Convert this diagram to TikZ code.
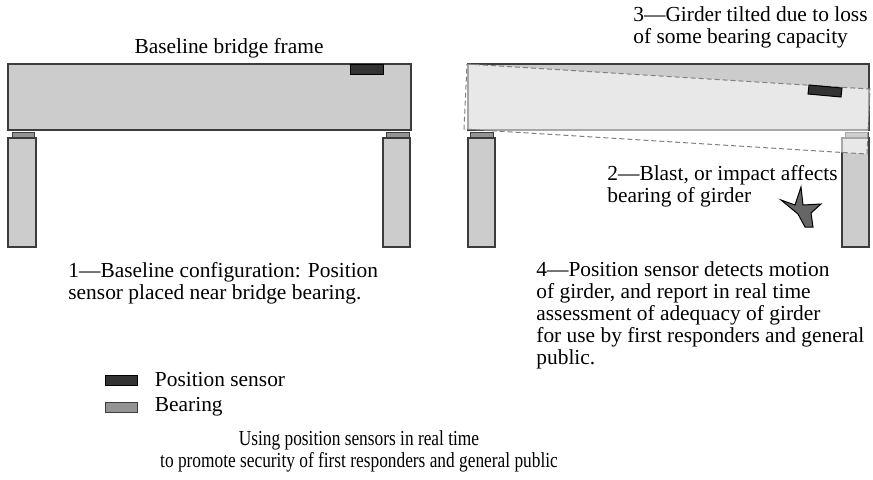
\documentclass[tikz,border=0pt]{standalone}
\usepackage{fontspec}
\setmainfont{Liberation Serif}
\usepackage{graphicx}
\usetikzlibrary{positioning}

\definecolor{edgegray}{HTML}{3C3C3C}
\definecolor{girdergray}{HTML}{CCCCCC}
\definecolor{bearinggray}{HTML}{939393}
\definecolor{sensorgray}{HTML}{333333}
\definecolor{stargray}{HTML}{666666}

\begin{document}
\begin{tikzpicture}[x=0.5pt,y=-0.5pt]
  \tikzset{girder/.style = {draw=edgegray, fill=girdergray, line width=0.6pt}}
  \tikzset{pier/.style = {draw=edgegray, fill=girdergray, line width=0.6pt}}
  \tikzset{bearing/.style = {draw=edgegray, fill=bearinggray, line width=0.5pt}}
  \tikzset{sensor/.style = {draw=black, fill=sensorgray, line width=0.5pt}}
  \tikzset{ghost/.style = {draw=gray, dashed, dash pattern=on 2.5pt off 1.5pt, fill=white, fill opacity=0.55, line width=0.5pt}}
  \tikzset{blast/.style = {draw=black, fill=stargray, line width=0.5pt, line join=miter}}
  \tikzset{lbl/.style = {inner sep=0pt, align=left, font=\fontsize{10.7}{11}\selectfont}}

  \useasboundingbox (0,0) rectangle (873,479);

  % baseline frame
  \draw[girder] (8,64) rectangle (411,130);
  \draw[sensor] (350,64) rectangle (383,74);
  \draw[bearing] (12,132) rectangle (34,137);
  \draw[bearing] (386,132) rectangle (409,137);
  \draw[pier] (8,138) rectangle (36,247);
  \draw[pier] (383,138) rectangle (410,247);

  % damaged frame
  \draw[girder] (468,64) rectangle (869,130);
  \draw[bearing] (470,132) rectangle (493,137);
  \draw[bearing] (845,132) rectangle (868,137);
  \draw[pier] (468,138) rectangle (495,247);
  \draw[pier] (842,138) rectangle (869,247);
  \draw[ghost] (467,64) -- (870,89) -- (867,154) -- (464,129) -- cycle;
  \draw[sensor] (809,85) -- (842,88) -- (841,97) -- (808,94) -- cycle;
  \draw[blast] (801,187) -- (803,205) -- (821,204) -- (811,213) -- (813,227)
    -- (805,227) -- (798,214) -- (781,200) -- (795,205) -- cycle;

  % labels (multi-line ones sit on their last baseline)
  \node[lbl, anchor=base] (title) at (229,53) {Baseline bridge frame};
  \node[lbl, anchor=base west] (tilt) at (633,43) {3—Girder tilted due to loss\\of some bearing capacity};
  \node[lbl, anchor=base west] (impact) at (607,202) {2—Blast, or impact affects\\bearing of girder};
  \node[lbl, anchor=base west] (config) at (68,299) {1—Baseline configuration: Position\\sensor placed near bridge bearing.};
  \node[lbl, anchor=base west] (detect) at (536,364) {4—Position sensor detects motion\\of girder, and report in real time\\assessment of adequacy of girder\\for use by first responders and general\\public.};

  % legend
  \node[sensor, minimum width=16pt, minimum height=5pt, inner sep=0pt] (keysensor) at (121,380) {};
  \node[bearing, minimum width=16pt, minimum height=5pt, inner sep=0pt] (keybearing) at (121,407) {};
  \node[lbl, right=8.5pt of keysensor] (keysensortxt) {Position sensor};
  \node[lbl, right=8.5pt of keybearing] (keybearingtxt) {Bearing};

  \node[lbl, anchor=base, align=center] (caption) at (359,467) {\scalebox{0.81}[1]{Using position sensors in real time}\\\scalebox{0.81}[1]{to promote security of first responders and general public}};
\end{tikzpicture}
\end{document}
